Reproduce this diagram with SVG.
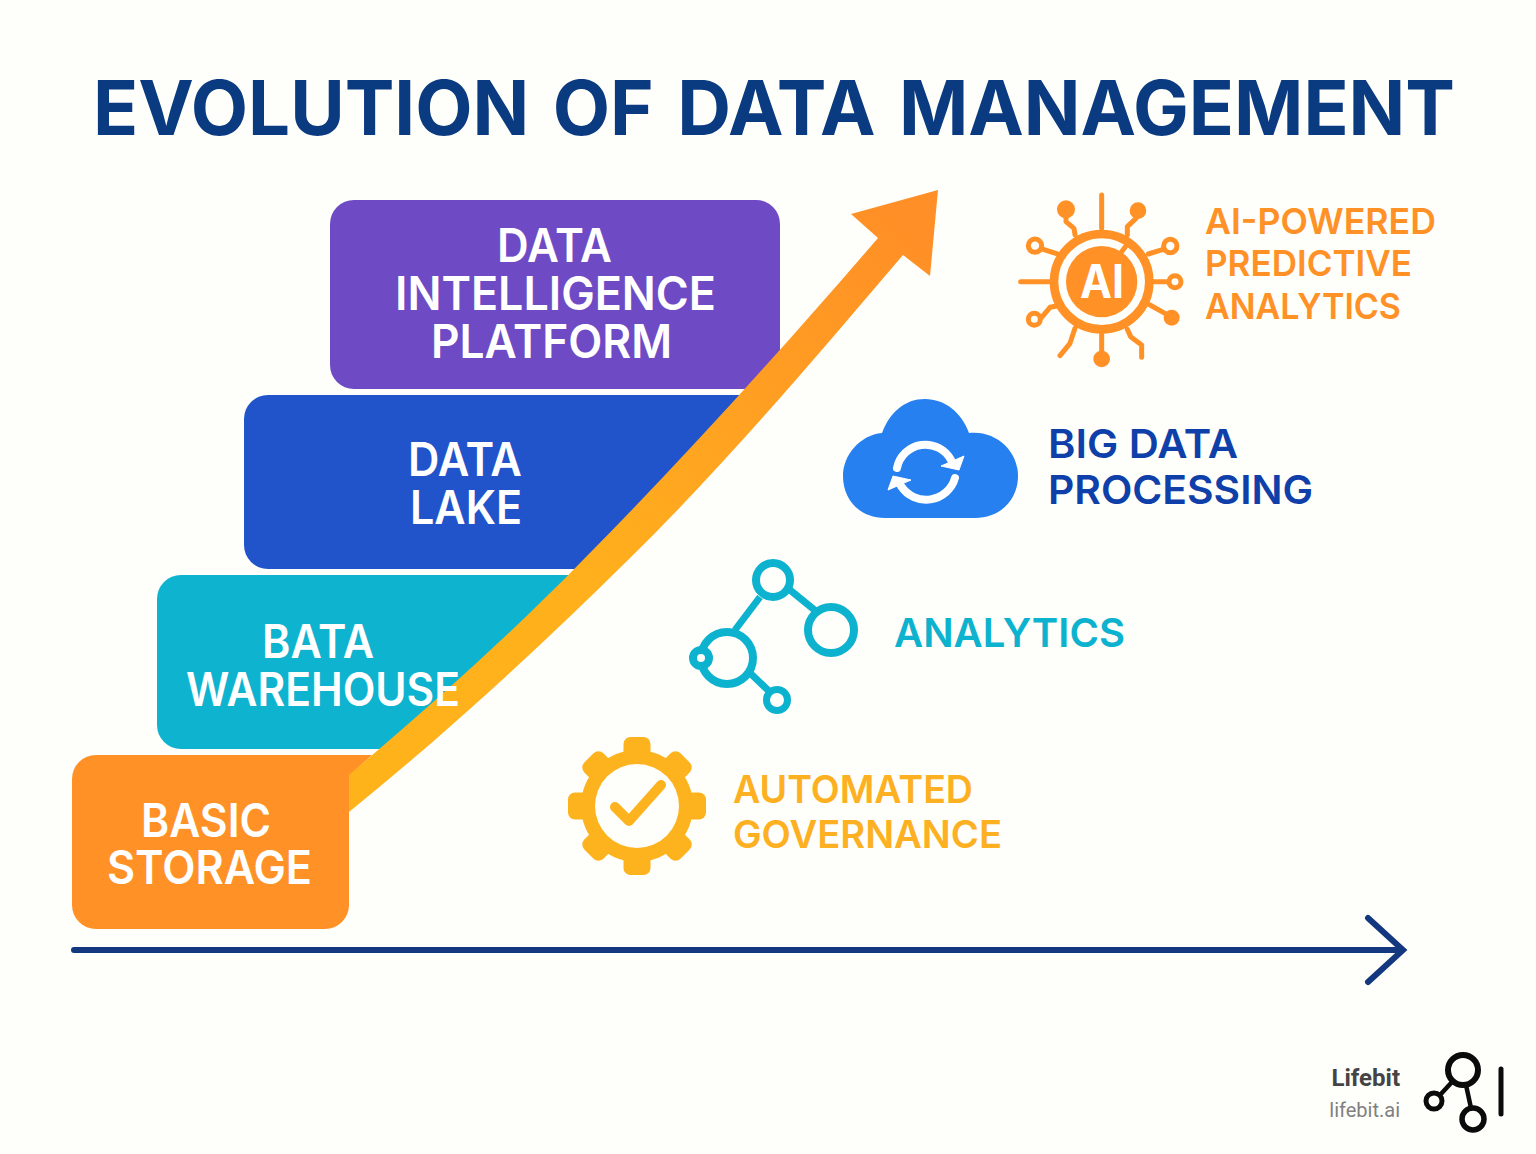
<svg xmlns="http://www.w3.org/2000/svg" width="1536" height="1154" viewBox="0 0 1536 1154">
<style>
text{font-family:"Inter","Liberation Sans",sans-serif;font-weight:600}
.title{font-size:76px;font-weight:700;fill:#0A3A80;word-spacing:6px}
.box{font-size:46px;fill:#fff}
.ai{font-size:36px;fill:#FF9126}
.big{font-size:40px;fill:#0F3FA8}
.an{font-size:40px;fill:#0DB2CF}
.gov{font-size:38px;fill:#FDB022}
.or{fill:none;stroke:#FF9126;stroke-width:15;stroke-linecap:round;stroke-linejoin:round}
.orf{fill:#FF9126}
.te{fill:none;stroke:#0DB2CF}
.lg{fill:none;stroke:#0b0b0b;stroke-linecap:round}
</style>
<defs>
<linearGradient id="arrowFill" gradientUnits="userSpaceOnUse" x1="900" y1="220" x2="350" y2="800">
<stop offset="0" stop-color="#FF8F26"/><stop offset="0.35" stop-color="#FFA321"/><stop offset="0.6" stop-color="#FFB01C"/><stop offset="1" stop-color="#FFB31A"/>
</linearGradient>
</defs>
<rect width="1536" height="1154" fill="#FEFEFB"/>
<text class="title" x="93" y="135" textLength="1362" lengthAdjust="spacingAndGlyphs">EVOLUTION OF DATA MANAGEMENT</text>

<g id="node-platform">
<rect x="330" y="200" width="450" height="189" rx="24" fill="#6E4BC5"/>
<text class="box" x="497" y="262" textLength="115" lengthAdjust="spacingAndGlyphs">DATA</text>
<text class="box" x="395" y="310" textLength="321" lengthAdjust="spacingAndGlyphs">INTELLIGENCE</text>
<text class="box" x="431" y="358" textLength="241" lengthAdjust="spacingAndGlyphs">PLATFORM</text>
</g>
<g id="node-lake">
<path d="M268,395H760L595,569H268a24,24 0 0 1-24-24V419a24,24 0 0 1 24-24Z" fill="#2154CB"/>
<text class="box" x="408" y="476" textLength="114" lengthAdjust="spacingAndGlyphs">DATA</text>
<text class="box" x="410" y="524" textLength="112" lengthAdjust="spacingAndGlyphs">LAKE</text>
</g>
<g id="node-warehouse">
<path d="M181,575H590L400,749H181a24,24 0 0 1-24-24V599a24,24 0 0 1 24-24Z" fill="#0DB3CF"/>
</g>
<g id="node-storage">
<path d="M96,755H372L349,776V905a24,24 0 0 1-24,24H96a24,24 0 0 1-24-24V779a24,24 0 0 1 24-24Z" fill="#FF9126"/>
<text class="box" x="141" y="837" textLength="130" lengthAdjust="spacingAndGlyphs">BASIC</text>
<text class="box" x="107" y="884" textLength="205" lengthAdjust="spacingAndGlyphs">STORAGE</text>
</g>

<g id="connectors">
<path id="growth-arrow" d="M349,775C430,706 510,635 583,560C690,452 790,340 878,238L851,214L938,190L930,276L903,255C820,352 730,460 628,560C540,647 450,730 349,812Z" fill="url(#arrowFill)"/>
<path id="timeline" d="M74,950H1400M1368,918L1403,950L1368,982" fill="none" stroke="#14387F" stroke-width="6" stroke-linecap="round" stroke-linejoin="miter"/>
</g>

<g id="node-warehouse-label">
<text class="box" x="262" y="658" textLength="112" lengthAdjust="spacingAndGlyphs">BATA</text>
<text class="box" x="186" y="706" textLength="274" lengthAdjust="spacingAndGlyphs">WAREHOUSE</text>
</g>

<g id="node-ai">
<g transform="translate(1000,180) scale(0.3333)">
<circle cx="305" cy="305" r="143" fill="none" stroke="#FF9126" stroke-width="26"/>
<circle cx="305" cy="305" r="107" class="orf"/>
<path class="or" d="M305,45V145M62,305H150M198,110V125L222,145L225,165M408,115L382,140V165M445,222L490,208M462,305H505M450,375L495,400M305,462V515M382,448L392,470L425,495V532M225,445L210,490L180,527M125,412L150,382L170,378M130,208L172,222M380,195L365,215"/>
<circle class="orf" cx="198" cy="88" r="27"/><circle class="orf" cx="414" cy="92" r="25"/>
<circle class="orf" cx="515" cy="413" r="24"/><circle class="orf" cx="305" cy="537" r="25"/>
<circle class="or" cx="511" cy="198" r="20"/><circle class="or" cx="525" cy="305" r="18"/>
<circle class="or" cx="103" cy="418" r="18"/><circle class="or" cx="105" cy="197" r="20"/>
</g>
<text x="1080" y="298" font-size="46" fill="#fff" style="font-weight:700" textLength="44" lengthAdjust="spacingAndGlyphs">AI</text>
<text class="ai" x="1205" y="234" textLength="231" lengthAdjust="spacingAndGlyphs">AI-POWERED</text>
<text class="ai" x="1205" y="276" textLength="207" lengthAdjust="spacingAndGlyphs">PREDICTIVE</text>
<text class="ai" x="1205" y="319" textLength="196" lengthAdjust="spacingAndGlyphs">ANALYTICS</text>
</g>

<g id="node-bigdata">
<path d="M885,518C860,518 843,500 843,476C843,455 860,435 882,433C890,412 905,399 925,399C945,399 962,413 969,433C995,430 1018,450 1018,476C1018,500 1000,518 975,518Z" fill="#2680F0"/>
<path d="M897,468A29,29 0 0 1 951,460" fill="none" stroke="#fff" stroke-width="8" stroke-linecap="round"/>
<path d="M955,478A30,30 0 0 1 901,486" fill="none" stroke="#fff" stroke-width="8" stroke-linecap="round"/>
<path d="M941,466L959,470L964,456ZM888,490L893,476L911,480Z" fill="#fff" stroke="#fff" stroke-width="1"/>
<text class="big" x="1048" y="458" textLength="190" lengthAdjust="spacingAndGlyphs">BIG DATA</text>
<text class="big" x="1048" y="504" textLength="265" lengthAdjust="spacingAndGlyphs">PROCESSING</text>
</g>

<g id="node-analytics">
<path class="te" stroke-width="7" d="M760,597L735,630M790,590L817,612M750,673L770,692"/>
<circle class="te" cx="773" cy="580" r="17" stroke-width="8"/>
<circle class="te" cx="831" cy="630" r="23" stroke-width="8"/>
<circle class="te" cx="727" cy="658" r="26" stroke-width="8"/>
<circle cx="701" cy="658" r="8" fill="#FEFEFB" stroke="#0DB2CF" stroke-width="8"/>
<circle class="te" cx="777" cy="700" r="10.5" stroke-width="7"/>
<text class="an" x="894" y="647" textLength="231" lengthAdjust="spacingAndGlyphs">ANALYTICS</text>
</g>

<g id="node-governance">
<g fill="#FDB31E">
<circle cx="637" cy="806" r="56"/>
<rect x="623.500" y="737" width="27" height="30" rx="7"/>
<rect x="623.500" y="738" width="27" height="30" rx="7" transform="rotate(45 637 806)"/>
<rect x="623.500" y="737" width="27" height="30" rx="7" transform="rotate(90 637 806)"/>
<rect x="623.500" y="738" width="27" height="30" rx="7" transform="rotate(135 637 806)"/>
<rect x="623.500" y="737" width="27" height="30" rx="7" transform="rotate(180 637 806)"/>
<rect x="623.500" y="738" width="27" height="30" rx="7" transform="rotate(225 637 806)"/>
<rect x="623.500" y="737" width="27" height="30" rx="7" transform="rotate(270 637 806)"/>
<rect x="623.500" y="738" width="27" height="30" rx="7" transform="rotate(315 637 806)"/>
</g>
<circle cx="637" cy="806" r="42" fill="#FEFEFB"/>
<path d="M615,807L629,821L661,785" fill="none" stroke="#FDB31E" stroke-width="10" stroke-linecap="round" stroke-linejoin="round"/>
<text class="gov" x="733" y="803" textLength="240" lengthAdjust="spacingAndGlyphs">AUTOMATED</text>
<text class="gov" x="733" y="848" textLength="269" lengthAdjust="spacingAndGlyphs">GOVERNANCE</text>
</g>

<g id="logo">
<text x="1400" y="1086" text-anchor="end" font-size="24" fill="#444" style="font-family:Roboto,'Liberation Sans',sans-serif;font-weight:700">Lifebit</text>
<text x="1400" y="1117" text-anchor="end" font-size="20" fill="#808080" style="font-family:Roboto,'Liberation Sans',sans-serif;font-weight:400">lifebit.ai</text>
<circle class="lg" cx="1463" cy="1070" r="15" stroke-width="6"/>
<circle class="lg" cx="1434" cy="1101" r="8" stroke-width="5"/>
<circle class="lg" cx="1473" cy="1119" r="11" stroke-width="5.500"/>
<path class="lg" stroke-width="4.500" d="M1452,1082L1440,1095M1466,1085L1471,1108"/>
<path class="lg" stroke-width="5" d="M1501,1069V1114"/>
</g>
</svg>
